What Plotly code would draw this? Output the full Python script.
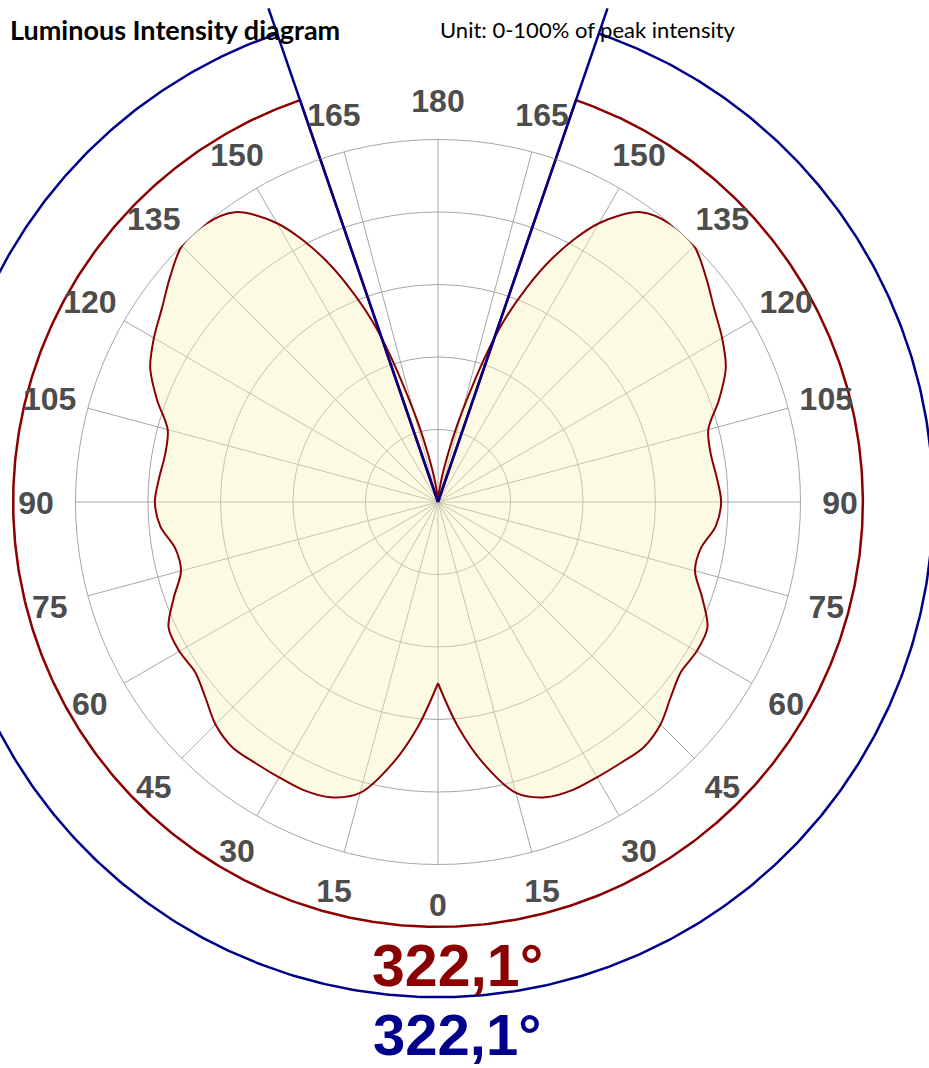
import numpy as np
import plotly.graph_objects as go

# ---- data (percent of peak intensity) ----
angles_deg = list(range(0, 181, 5))
intensity_pct = [50.0, 62.0, 73.5, 83.1, 86.7, 87.7, 87.7, 87.9, 88.3, 86.8,
                 83.8, 81.8, 82.4, 82.0, 77.6, 73.4, 73.6, 76.9, 78.1, 77.2,
                 76.4, 77.2, 82.5, 87.6, 90.5, 93.0, 96.5, 99.9, 100.0, 97.6,
                 88.8, 73.8, 53.3, 26.0, 9.0, 2.0, 0.0]
beam_angle_red = 322.1
beam_angle_blue = 322.1
tick_vals = list(range(0, 360, 15))
tick_text = [str(t if t <= 180 else 360 - t) for t in tick_vals]
radial_rings = [20, 40, 60, 80, 100]

# ---- styling ----
W, H = 929, 1068
cx, cy, R = 438, 502, 362.5          # polar centre and 100 % radius (px)
S = R / 100.0                        # px per percent
RED = "#8B0000"
BLUE = "#00008B"
GRID = "#a6a6a6"
LABEL = "#4d4d4d"
red_arc_r = 117.2
blue_arc_r = 136.6
blue_line_r = 144.0
label_r = 110.9
label_dy = -4.0 / S                  # small downward nudge of the text baseline


def to_xy(r, theta_deg):
    """polar (0 deg at bottom, increasing towards the right) -> overlay axes"""
    t = np.radians(np.asarray(theta_deg, dtype=float))
    r = np.asarray(r, dtype=float)
    return r * np.sin(t), -r * np.cos(t)


left_theta = [360 - a for a in angles_deg]

fig = go.Figure()
# filled area (closed outline)
fig.add_trace(go.Scatterpolar(
    r=intensity_pct + intensity_pct[::-1], theta=angles_deg + left_theta[::-1],
    mode="lines", line=dict(width=0, color="rgba(0,0,0,0)"),
    fill="toself", fillcolor="rgba(250,243,185,0.40)",
    hoverinfo="skip", showlegend=False))
# outline, each half on its own so the 0° cusp stays sharp
for th in (angles_deg, left_theta):
    fig.add_trace(go.Scatterpolar(
        r=intensity_pct, theta=th, mode="lines",
        line=dict(color=RED, width=2, shape="spline", smoothing=0.9),
        hoverinfo="skip", showlegend=False))


def beam(beam_angle, arc_r, line_r, color):
    half = beam_angle / 2
    # inner part of the two beam edges, inside the polar grid
    for t in (-half, half):
        fig.add_trace(go.Scatterpolar(
            r=[0, 100], theta=[t, t], mode="lines",
            line=dict(color=color, width=2.5), hoverinfo="skip", showlegend=False))
    # outer parts + arc on the overlay axes (they reach beyond the 100 % ring)
    arc_t = np.linspace(-half, half, 600)
    x0, y0 = to_xy([100, line_r], [-half, -half])
    xa, ya = to_xy(np.full(arc_t.size, arc_r), arc_t)
    x1, y1 = to_xy([line_r, 100], [half, half])
    fig.add_trace(go.Scatter(
        x=list(x0) + [None] + list(xa) + [None] + list(x1),
        y=list(y0) + [None] + list(ya) + [None] + list(y1),
        mode="lines", line=dict(color=color, width=2.5),
        hoverinfo="skip", showlegend=False, xaxis="x", yaxis="y"))


beam(beam_angle_red, red_arc_r, red_arc_r, RED)
beam(beam_angle_blue, blue_arc_r, blue_line_r, BLUE)

# angle labels, centred on a circle outside the grid
lx, ly = to_xy([label_r] * len(tick_vals), tick_vals)
fig.add_trace(go.Scatter(
    x=lx, y=ly + label_dy, mode="text", text=tick_text, textposition="middle center",
    textfont=dict(family="Liberation Sans, Arial", size=32, color=LABEL, weight="bold"),
    hoverinfo="skip", showlegend=False, xaxis="x", yaxis="y"))

fig.update_layout(
    width=W, height=H,
    margin=dict(l=0, r=0, t=0, b=0),
    paper_bgcolor="white", plot_bgcolor="white",
    showlegend=False,
    xaxis=dict(domain=[0, 1], range=[-cx / S, (W - cx) / S], visible=False, fixedrange=True),
    yaxis=dict(domain=[0, 1], range=[-(H - cy) / S, cy / S], visible=False, fixedrange=True),
    polar=dict(
        domain=dict(x=[(cx - R) / W, (cx + R) / W],
                    y=[(H - cy - R) / H, (H - cy + R) / H]),
        bgcolor="rgba(0,0,0,0)",
        radialaxis=dict(range=[0, 100], tickmode="array", tickvals=radial_rings,
                        showticklabels=False, ticks="", showline=False,
                        gridcolor=GRID, gridwidth=1, layer="below traces"),
        angularaxis=dict(rotation=-90, direction="counterclockwise",
                         tickmode="array", tickvals=tick_vals,
                         showticklabels=False, ticks="",
                         gridcolor=GRID, gridwidth=1,
                         showline=True, linecolor=GRID, linewidth=1,
                         layer="below traces"),
    ),
    annotations=[
        dict(text="<b>Luminous Intensity diagram</b>", x=8 / W, y=1 - 29 / H,
             xref="paper", yref="paper", xanchor="left", yanchor="middle",
             showarrow=False, font=dict(family="Lato", size=27, color="black")),
        dict(text="Unit: 0-100% of peak intensity", x=438 / W, y=1 - 30 / H,
             xref="paper", yref="paper", xanchor="left", yanchor="middle",
             showarrow=False, font=dict(family="Lato", size=22, color="black")),
        dict(text=f"{beam_angle_red:.1f}°".replace(".", ","), x=457 / W, y=1 - 966 / H,
             xref="paper", yref="paper", xanchor="center", yanchor="middle",
             showarrow=False, font=dict(family="Liberation Sans, Arial", size=59,
                                        color=RED, weight="bold")),
        dict(text=f"{beam_angle_blue:.1f}°".replace(".", ","), x=457 / W, y=1 - 1034 / H,
             xref="paper", yref="paper", xanchor="center", yanchor="middle",
             showarrow=False, font=dict(family="Liberation Sans, Arial", size=58,
                                        color=BLUE, weight="bold")),
    ],
)

fig.write_html("out.html", config={"displayModeBar": False},
               post_script="document.body.style.margin='0';")
